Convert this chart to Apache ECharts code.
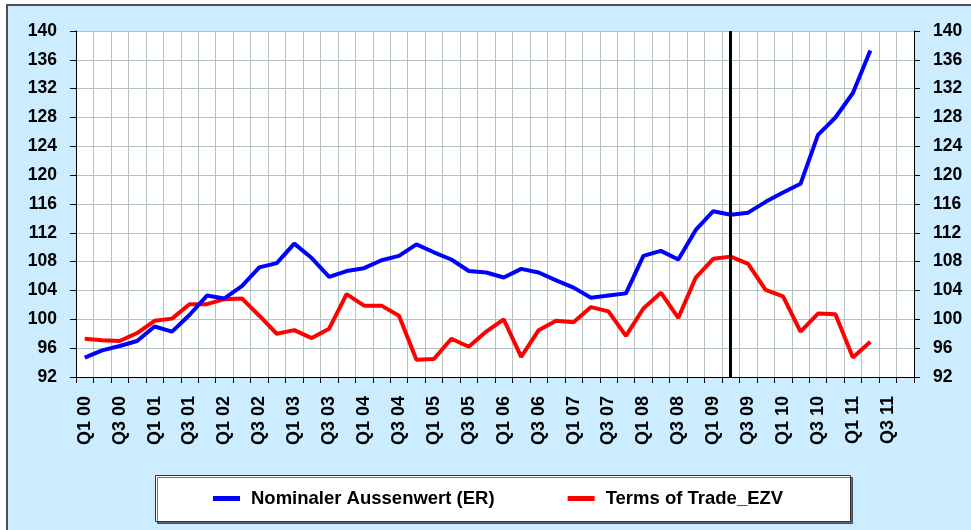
<!DOCTYPE html>
<html>
<head>
<meta charset="utf-8">
<script src="https://cdn.jsdelivr.net/npm/echarts@6/dist/echarts.min.js"></script>
<style>
  html, body { margin: 0; padding: 0; background: #fff; }
  #chart { width: 971px; height: 530px; }
</style>
</head>
<body>
<div id="chart"></div>
<script>
// Quartale Q1 00 .. Q4 11
const years = ['00', '01', '02', '03', '04', '05', '06', '07', '08', '09', '10', '11']
const quarters = []
years.forEach(y => {
  for (let q = 1; q <= 4; q++) quarters.push('Q' + q + ' ' + y)
})

// Nominaler Aussenwert (ER), Q1 00 .. Q2 11
const nominalER = [
  94.7, 95.7, 96.3, 97.0, 99.0, 98.3, 100.6, 103.3, 102.9, 104.6,
  107.2, 107.8, 110.5, 108.5, 105.9, 106.7, 107.1, 108.2, 108.8, 110.4,
  109.3, 108.3, 106.7, 106.5, 105.8, 107.0, 106.5, 105.4, 104.4, 103.0,
  103.3, 103.6, 108.8, 109.5, 108.3, 112.4, 115.0, 114.5, 114.8, 116.3,
  117.6, 118.8, 125.6, 128.0, 131.4, 137.3
]

// Terms of Trade_EZV, Q1 00 .. Q2 11
const termsOfTrade = [
  97.3, 97.1, 97.0, 98.1, 99.8, 100.1, 102.1, 102.1, 102.8, 102.9,
  100.5, 98.0, 98.5, 97.4, 98.7, 103.5, 101.9, 101.9, 100.5, 94.4,
  94.5, 97.3, 96.2, 98.3, 100.0, 94.8, 98.5, 99.8, 99.6, 101.7,
  101.1, 97.7, 101.5, 103.7, 100.2, 105.8, 108.4, 108.7, 107.7, 104.1,
  103.2, 98.3, 100.8, 100.7, 94.7, 96.9
]

const markerQuarter = 'Q2 09'

const chart = echarts.init(document.getElementById('chart'))

const labelFont = {
  fontFamily: 'Liberation Sans, Arial, sans-serif',
  fontWeight: 'bold',
  color: '#000'
}

const yAxisBase = {
  type: 'value',
  min: 92,
  max: 140,
  interval: 4,
  axisLine: { show: true, lineStyle: { color: '#000', width: 1 } },
  axisTick: { show: true, length: 6, lineStyle: { color: '#000' } },
  axisLabel: { ...labelFont, fontSize: 17.5, margin: 19 }
}

const option = {
  animation: false,
  backgroundColor: '#fff',
  graphic: [
    {
      type: 'rect',
      z: -100,
      shape: { x: 7, y: 5, width: 990, height: 560 },
      style: { fill: '#CCECFF', stroke: '#505050', lineWidth: 2 }
    },
    {
      type: 'rect',
      z: -50,
      shape: { x: 155.5, y: 475.5, width: 695, height: 46 },
      style: {
        fill: '#fff', stroke: '#333', lineWidth: 1,
        shadowColor: 'rgba(0,0,0,0.55)', shadowOffsetX: 2, shadowOffsetY: 2, shadowBlur: 0
      }
    }
  ],
  grid: {
    left: 76,
    right: 57,
    top: 31,
    bottom: 153,
    show: true,
    backgroundColor: '#fff',
    borderWidth: 0
  },
  legend: {
    left: 213,
    top: 489,
    padding: 0,
    itemGap: 73,
    itemWidth: 27,
    itemHeight: 5,
    icon: 'rect',
    textStyle: { ...labelFont, fontSize: 18.5, padding: [0, 0, 0, 6] },
    data: ['Nominaler Aussenwert (ER)', 'Terms of Trade_EZV']
  },
  xAxis: {
    type: 'category',
    data: quarters,
    boundaryGap: true,
    axisLine: { show: true, lineStyle: { color: '#000', width: 1 } },
    axisTick: { show: true, interval: 0, length: 6, lineStyle: { color: '#000' } },
    axisLabel: { ...labelFont, fontSize: 18, rotate: 90, interval: 1, margin: 19 },
    splitLine: { show: true, interval: 0, lineStyle: { color: '#b4c3bf', width: 1 } }
  },
  yAxis: [
    {
      ...yAxisBase,
      position: 'left',
      splitLine: { show: true, lineStyle: { color: '#b4c3bf', width: 1 } }
    },
    {
      ...yAxisBase,
      position: 'right',
      splitLine: { show: false }
    }
  ],
  series: [
    {
      name: 'Nominaler Aussenwert (ER)',
      type: 'line',
      data: nominalER,
      symbol: 'none',
      color: '#0000FF',
      lineStyle: { width: 4, color: '#0000FF' },
      z: 3,
      markLine: {
        silent: true,
        symbol: 'none',
        label: { show: false },
        lineStyle: { color: '#000', width: 3, type: 'solid' },
        data: [{ xAxis: markerQuarter }]
      }
    },
    {
      name: 'Terms of Trade_EZV',
      type: 'line',
      data: termsOfTrade,
      symbol: 'none',
      color: '#FF0000',
      lineStyle: { width: 4, color: '#FF0000' },
      z: 2
    }
  ]
}

chart.setOption(option)
</script>
</body>
</html>
